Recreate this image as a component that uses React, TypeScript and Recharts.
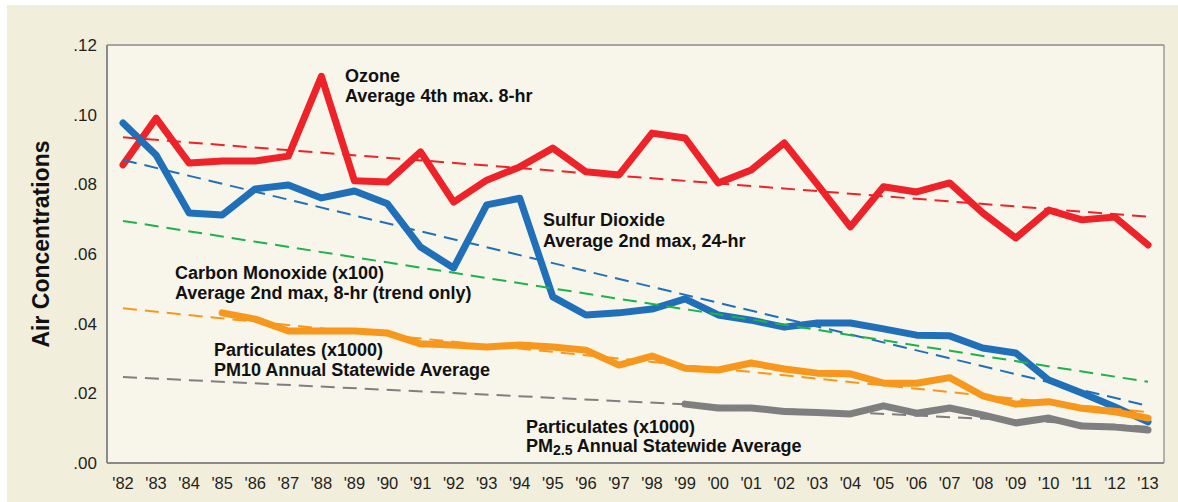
import { LineChart, Line, XAxis, YAxis, CartesianGrid } from 'recharts';

const years = [
  "'82", "'83", "'84", "'85", "'86", "'87", "'88", "'89", "'90", "'91", "'92",
  "'93", "'94", "'95", "'96", "'97", "'98", "'99", "'00", "'01", "'02", "'03",
  "'04", "'05", "'06", "'07", "'08", "'09", "'10", "'11", "'12", "'13",
];

const ozone = [
  0.0856, 0.099, 0.0861, 0.0867, 0.0867, 0.0881, 0.111, 0.081, 0.0807, 0.0893, 0.0749,
  0.0812, 0.085, 0.0904, 0.0836, 0.0827, 0.0947, 0.0933, 0.0804, 0.0841, 0.0919, 0.080,
  0.0678, 0.0793, 0.0778, 0.0804, 0.0718, 0.0646, 0.0726, 0.0698, 0.0706, 0.0626,
];

const sulfurDioxide = [
  0.0976, 0.0884, 0.0718, 0.0712, 0.0787, 0.0798, 0.0761, 0.0781, 0.0744, 0.062, 0.056,
  0.0741, 0.076, 0.0477, 0.0425, 0.0431, 0.0442, 0.0471, 0.0425, 0.041, 0.039, 0.0402,
  0.0402, 0.0385, 0.0367, 0.0365, 0.033, 0.0316, 0.0238, 0.0201, 0.0161, 0.0118,
];

const pm10 = [
  null, null, null, 0.0431, 0.0413, 0.0379, 0.0379, 0.0379, 0.0373, 0.0342, 0.0339,
  0.0333, 0.0339, 0.0333, 0.0324, 0.0281, 0.0307, 0.0272, 0.0267, 0.0287, 0.027, 0.0258,
  0.0256, 0.0229, 0.0229, 0.0245, 0.0193, 0.0169, 0.0176, 0.0157, 0.0147, 0.0129,
];

const pm25 = [
  null, null, null, null, null, null, null, null, null, null, null,
  null, null, null, null, null, null, 0.0169, 0.0158, 0.0158, 0.0148, 0.0145,
  0.0141, 0.0164, 0.0143, 0.0158, 0.0138, 0.0115, 0.0129, 0.0106, 0.0103, 0.0095,
];

// trend lines: value at '82 and at '13
const ozoneTrend = [0.0935, 0.0707];
const so2Trend = [0.087, 0.0164];
const coTrend = [0.0695, 0.0233];
const pm10Trend = [0.0444, 0.0146];
const pm25Trend = [0.0247, 0.0104];

const yTicks = [0, 0.02, 0.04, 0.06, 0.08, 0.1, 0.12];

const last = years.length - 1;
const trendAt = (t: number[], i: number) => (i === 0 ? t[0] : i === last ? t[1] : null);

const data = years.map((year, i) => ({
  year,
  ozone: ozone[i],
  so2: sulfurDioxide[i],
  pm10: pm10[i],
  pm25: pm25[i],
  ozoneTrend: trendAt(ozoneTrend, i),
  so2Trend: trendAt(so2Trend, i),
  coTrend: trendAt(coTrend, i),
  pm10Trend: trendAt(pm10Trend, i),
  pm25Trend: trendAt(pm25Trend, i),
}));

const FONT = '"Liberation Sans", Arial, sans-serif';
const DASH = '14 8';

const labelStyle = { fontFamily: FONT, fontSize: 18, fontWeight: 700, fill: '#111' };

export default function App() {
  return (
    <div style={{ position: 'relative', width: 1178, height: 502, background: '#fff' }}>
      <style>{'body{margin:0}'}</style>
      <div
        style={{
          position: 'absolute',
          left: 7,
          top: 5,
          width: 1171,
          height: 497,
          background: '#f2eedc',
        }}
      />
      <div style={{ position: 'absolute', left: 0, top: 0 }}>
        <LineChart
          width={1178}
          height={502}
          data={data}
          margin={{ top: 45, right: 13, bottom: 9, left: 47 }}
        >
          <CartesianGrid
            vertical={false}
            stroke="#8a8a8a"
            strokeWidth={1.3}
            fill="#f8f5ea"
            fillOpacity={1}
          />
          <XAxis
            dataKey="year"
            height={30}
            padding={{ left: 16, right: 16 }}
            axisLine={{ stroke: '#8a8a8a', strokeWidth: 2 }}
            tickLine={false}
            tickMargin={8}
            interval={0}
            tick={{ fontFamily: FONT, fontSize: 16.5, fill: '#231f20' }}
          />
          <YAxis
            yAxisId="left"
            width={60}
            domain={[0, 0.12]}
            ticks={yTicks}
            tickFormatter={(v: number) => v.toFixed(2).replace(/^0/, '')}
            axisLine={{ stroke: '#8a8a8a', strokeWidth: 2 }}
            tickLine={false}
            tickMargin={4}
            tick={{ fontFamily: FONT, fontSize: 17, fill: '#231f20' }}
          />
          <YAxis
            yAxisId="right"
            orientation="right"
            width={1}
            domain={[0, 0.12]}
            tick={false}
            tickLine={false}
            axisLine={{ stroke: '#9a9a9a', strokeWidth: 1.5 }}
          />

          <Line yAxisId="left" dataKey="ozone" stroke="#ee2229" strokeWidth={7} dot={false} strokeLinejoin="round" strokeLinecap="round" isAnimationActive={false} />
          <Line yAxisId="left" dataKey="so2" stroke="#1f70b8" strokeWidth={7} dot={false} strokeLinejoin="round" strokeLinecap="round" isAnimationActive={false} />
          <Line yAxisId="left" dataKey="pm10" stroke="#f7981d" strokeWidth={7} dot={false} strokeLinejoin="round" strokeLinecap="round" isAnimationActive={false} />
          <Line yAxisId="left" dataKey="pm25" stroke="#7f7f7f" strokeWidth={7} dot={false} strokeLinejoin="round" strokeLinecap="round" isAnimationActive={false} />

          <Line yAxisId="left" dataKey="ozoneTrend" stroke="#ee2229" strokeWidth={2} strokeDasharray={DASH} dot={false} connectNulls isAnimationActive={false} />
          <Line yAxisId="left" dataKey="so2Trend" stroke="#1f70b8" strokeWidth={2} strokeDasharray={DASH} dot={false} connectNulls isAnimationActive={false} />
          <Line yAxisId="left" dataKey="coTrend" stroke="#1db24b" strokeWidth={2} strokeDasharray={DASH} dot={false} connectNulls isAnimationActive={false} />
          <Line yAxisId="left" dataKey="pm10Trend" stroke="#f7981d" strokeWidth={2} strokeDasharray={DASH} dot={false} connectNulls isAnimationActive={false} />
          <Line yAxisId="left" dataKey="pm25Trend" stroke="#7f7f7f" strokeWidth={2} strokeDasharray={DASH} dot={false} connectNulls isAnimationActive={false} />
        </LineChart>
      </div>
      <svg
        width={1178}
        height={502}
        style={{ position: 'absolute', left: 0, top: 0, pointerEvents: 'none' }}
      >
        <text
          transform="translate(49,244) rotate(-90)"
          textAnchor="middle"
          style={{ fontFamily: FONT, fontSize: 23, fontWeight: 700, fill: '#111' }}
        >
          Air Concentrations
        </text>

        <text x={345} y={82} style={labelStyle}>Ozone</text>
        <text x={345} y={102} style={labelStyle}>Average 4th max. 8-hr</text>

        <text x={543} y={226} style={labelStyle}>Sulfur Dioxide</text>
        <text x={543} y={247} style={labelStyle}>Average 2nd max, 24-hr</text>

        <text x={175} y={279} style={labelStyle}>Carbon Monoxide (x100)</text>
        <text x={175} y={299} style={labelStyle}>Average 2nd max, 8-hr (trend only)</text>

        <text x={214} y={356} style={labelStyle}>Particulates (x1000)</text>
        <text x={214} y={376} style={labelStyle}>PM10 Annual Statewide Average</text>

        <text x={526} y={433} style={labelStyle}>Particulates (x1000)</text>
        <text x={526} y={452} style={labelStyle}>
          PM<tspan fontSize={14} dy={3}>2.5</tspan>
          <tspan dy={-3}> Annual Statewide Average</tspan>
        </text>
      </svg>
    </div>
  );
}
